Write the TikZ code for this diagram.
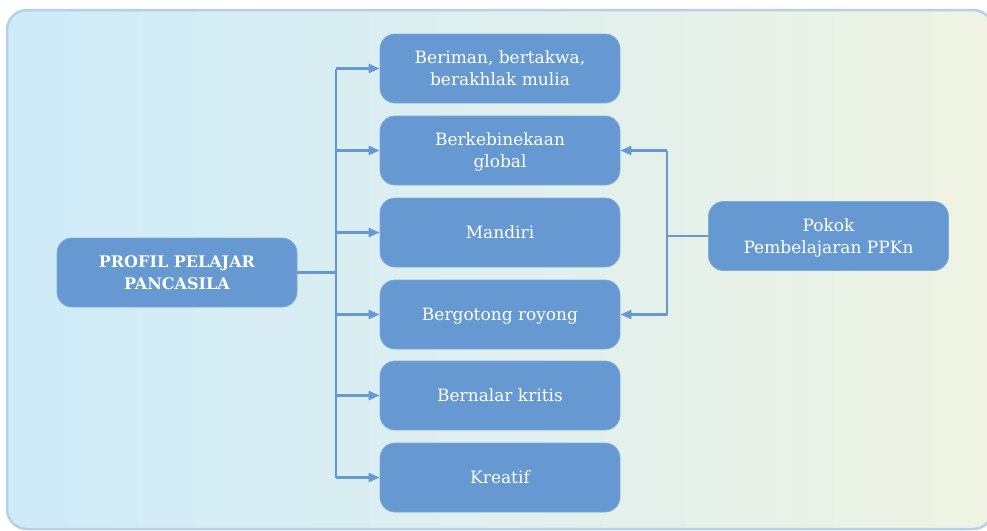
\documentclass[tikz,border=0pt]{standalone}
\usepackage{fontspec}
\setmainfont{DejaVu Serif}
\usetikzlibrary{arrows.meta}
\definecolor{boxblue}{HTML}{6699D2}
\definecolor{boxedge}{HTML}{7FAADB}
\definecolor{bgleft}{HTML}{CEEBF9}
\definecolor{bgright}{HTML}{F0F3E3}
\definecolor{bgborder}{HTML}{B8CFEC}
\begin{document}
\begin{tikzpicture}[x=1pt,y=-1pt,
  card/.style={fill=boxblue, draw=boxedge, line width=0.8pt, rounded corners=15pt,
    minimum width=240pt, minimum height=69pt, text=white, align=center,
    font=\fontsize{17}{22}\selectfont, inner sep=0pt, text depth=0pt},
  link/.style={draw=boxblue, line width=2.4pt},
  tip/.style={-{Triangle[length=11pt,width=9pt]}}]
\useasboundingbox (0,0) rectangle (987,530);
\clip (0,0) rectangle (987,530);
% panel behind the chart
\draw[rounded corners=20pt, left color=bgleft, right color=bgright,
  draw=bgborder, line width=2.5pt] (7,10) rectangle (993,529);

% main concept
\node[card, font=\fontsize{16}{22}\selectfont] (profil) at (177,272.5)
  {\textbf{PROFIL PELAJAR}\\\textbf{PANCASILA}};

% six dimensions
\node[card] (d1) at (500,68.5)  {Beriman, bertakwa,\\berakhlak mulia};
\node[card] (d2) at (500,150.5) {Berkebinekaan\\global};
\node[card] (d3) at (500,232.5) {Mandiri};
\node[card] (d4) at (500,314.5) {Bergotong royong};
\node[card] (d5) at (500,395.5) {Bernalar kritis};
\node[card] (d6) at (500,477.5) {Kreatif};

% subject matter
\node[card] (pokok) at (828.5,236) {Pokok\\Pembelajaran PPKn};

% left bracket
\coordinate (ltop) at (336,68.5);
\coordinate (lbot) at (336,477.5);
\draw[link] (profil.east) -- (profil.east -| ltop);
\draw[link] (ltop) -- (lbot);
\foreach \d in {d1,d2,d3,d4,d5,d6}
  \draw[link,tip] (\d.west -| ltop) -- (\d.west);

% right bracket
\coordinate (rx) at (667,0);
\draw[link] (pokok.west) -- (pokok.west -| rx);
\draw[link] (d2.east -| rx) -- (d4.east -| rx);
\draw[link,tip] (d2.east -| rx) -- (d2.east);
\draw[link,tip] (d4.east -| rx) -- (d4.east);
\end{tikzpicture}
\end{document}
